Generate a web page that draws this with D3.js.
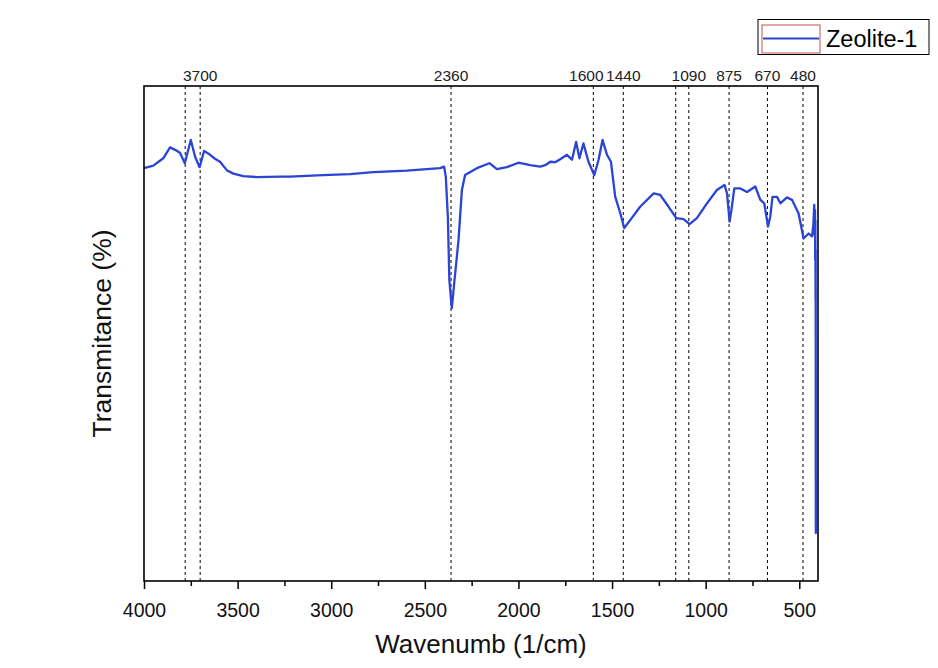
<!DOCTYPE html>
<html>
<head>
<meta charset="utf-8">
<script src="https://cdn.jsdelivr.net/npm/d3@7"></script>
<style>
  html, body { margin: 0; padding: 0; background: #ffffff; }
  svg { display: block; font-family: "Liberation Sans", Arial, sans-serif; }
</style>
</head>
<body>
<svg id="chart" width="938" height="668"></svg>
<script>
// ---- data ----
const wavenumber = [
  4000, 3950, 3897, 3861, 3834, 3808, 3782, 3750, 3727, 3703, 3679, 3647, 3621, 3594, 3558, 3523, 3470,
  3398, 3273, 3220, 3044, 2900, 2776, 2596, 2418, 2397, 2388, 2377, 2369, 2356, 2343, 2320, 2302, 2285,
  2222, 2155, 2115, 2062, 2000, 1937, 1884, 1857, 1830, 1804, 1777, 1741, 1714, 1692, 1674, 1653, 1626,
  1595, 1572, 1551, 1527, 1506, 1483, 1456, 1435, 1403, 1350, 1278, 1243, 1198, 1157, 1118,
  1086, 1047, 993, 940, 899, 886, 872, 860, 847, 815, 779, 735, 708, 687, 667,
  655, 643, 619, 601, 566, 539, 504, 477, 450, 432, 425, 420, 418, 416, 415,
  414, 413, 412.5, 412, 411.8, 411.6, 411.4, 411.2
];
const transmittance = [
  83.4, 83.9, 85.4, 87.6, 87.1, 86.5, 84.4, 89.1, 85.7, 83.6, 86.9, 86.1, 85.3, 84.7, 83.0, 82.3, 81.8,
  81.6, 81.7, 81.7, 82.0, 82.2, 82.6, 82.9, 83.4, 83.7, 81.7, 73.6, 60.8, 55.1, 60.2, 68.9, 79.0, 82.0,
  83.4, 84.4, 83.2, 83.6, 84.5, 84.0, 83.7, 84.0, 84.7, 84.6, 85.2, 86.1, 85.1, 88.7, 85.4, 88.4, 84.7,
  82.0, 85.1, 89.1, 86.1, 84.7, 77.6, 74.3, 71.3, 72.9, 75.6, 78.3, 78.0, 75.6, 73.3, 73.1,
  72.1, 73.3, 76.3, 79.0, 80.0, 78.3, 72.6, 75.6, 79.3, 79.3, 78.6, 79.7, 77.0, 76.3, 71.6,
  73.6, 77.6, 77.6, 76.3, 77.5, 77.0, 74.3, 69.2, 70.2, 69.6, 71.9, 76.0, 69.9, 74.9, 64.8,
  72.9, 56.8, 66.9, 44.0, 20.4, 9.7, 20.8, 9.7
];
const peakLines = [3780, 3700, 2360, 1600, 1440, 1160, 1090, 875, 670, 480];
const peakLabels = [3700, 2360, 1600, 1440, 1090, 875, 670, 480];
const xTicks = [4000, 3500, 3000, 2500, 2000, 1500, 1000, 500];
const xMinorTicks = [3750, 3250, 2750, 2250, 1750, 1250, 750];
const seriesName = "Zeolite-1";
const xTitle = "Wavenumb (1/cm)";
const yTitle = "Transmitance (%)";

// ---- layout ----
const pL = 144, pR = 818, pT = 86, pB = 581;
const svg = d3.select("#chart");

const x = d3.scaleLinear().domain([4000, 400]).range([pL, pR]);
const y = d3.scaleLinear().domain([0, 100]).range([pB, pB - 495]);

// dashed peak lines
svg.append("g").selectAll("line").data(peakLines).join("line")
  .attr("x1", d => x(d)).attr("x2", d => x(d))
  .attr("y1", pT).attr("y2", pB)
  .attr("stroke", "#000").attr("stroke-width", 1)
  .attr("stroke-dasharray", "3,3");

// peak labels
svg.append("g").selectAll("text").data(peakLabels).join("text")
  .attr("x", d => x(d) + (d === 1600 ? -7 : 0))
  .attr("y", 81)
  .attr("text-anchor", "middle")
  .attr("font-size", "15.5px")
  .attr("fill", "#222")
  .text(d => d);

// spectrum line
const line = d3.line().x((d, i) => x(wavenumber[i])).y((d, i) => y(transmittance[i]));
svg.append("path").datum(transmittance)
  .attr("d", line)
  .attr("fill", "none")
  .attr("stroke", "#2a44d4")
  .attr("stroke-width", 2.3)
  .attr("stroke-linejoin", "round");

// bottom axis (major)
const xAxis = d3.axisBottom(x).tickValues(xTicks).tickSize(8).tickFormat(d3.format("d"));
const gx = svg.append("g").attr("transform", `translate(0,${pB})`).call(xAxis);
gx.attr("font-family", null).attr("font-size", null);
gx.select(".domain").remove();
gx.selectAll(".tick line").attr("stroke", "#000").attr("stroke-width", 1.5);
gx.selectAll(".tick text")
  .attr("y", 36).attr("dy", 0)
  .attr("font-size", "19.5px")
  .attr("fill", "#111");

// minor ticks
const xMinor = d3.axisBottom(x).tickValues(xMinorTicks).tickSize(5).tickFormat("");
const gxm = svg.append("g").attr("transform", `translate(0,${pB})`).call(xMinor);
gxm.select(".domain").remove();
gxm.selectAll(".tick line").attr("stroke", "#000").attr("stroke-width", 1.5);

// frame
svg.append("rect")
  .attr("x", pL).attr("y", pT)
  .attr("width", pR - pL).attr("height", pB - pT)
  .attr("fill", "none").attr("stroke", "#000").attr("stroke-width", 1.6);

// axis titles
svg.append("text")
  .attr("x", 481).attr("y", 653)
  .attr("text-anchor", "middle")
  .attr("font-size", "26px").attr("fill", "#111")
  .text(xTitle);

svg.append("text")
  .attr("transform", `translate(111,${(pT + pB) / 2}) rotate(-90)`)
  .attr("text-anchor", "middle")
  .attr("font-size", "26.5px").attr("fill", "#111")
  .text(yTitle);

// legend
const lg = svg.append("g");
lg.append("rect").attr("x", 758).attr("y", 19.5).attr("width", 171).attr("height", 35)
  .attr("fill", "#fff").attr("stroke", "#000").attr("stroke-width", 1);
lg.append("rect").attr("x", 762).attr("y", 25).attr("width", 58).attr("height", 28)
  .attr("fill", "none").attr("stroke", "#c0504d").attr("stroke-width", 1);
lg.append("line").attr("x1", 763).attr("x2", 819).attr("y1", 38.5).attr("y2", 38.5)
  .attr("stroke", "#2a44d4").attr("stroke-width", 2);
lg.append("text").attr("x", 826).attr("y", 47)
  .attr("font-size", "23.5px").attr("fill", "#000")
  .text(seriesName);
</script>
</body>
</html>
